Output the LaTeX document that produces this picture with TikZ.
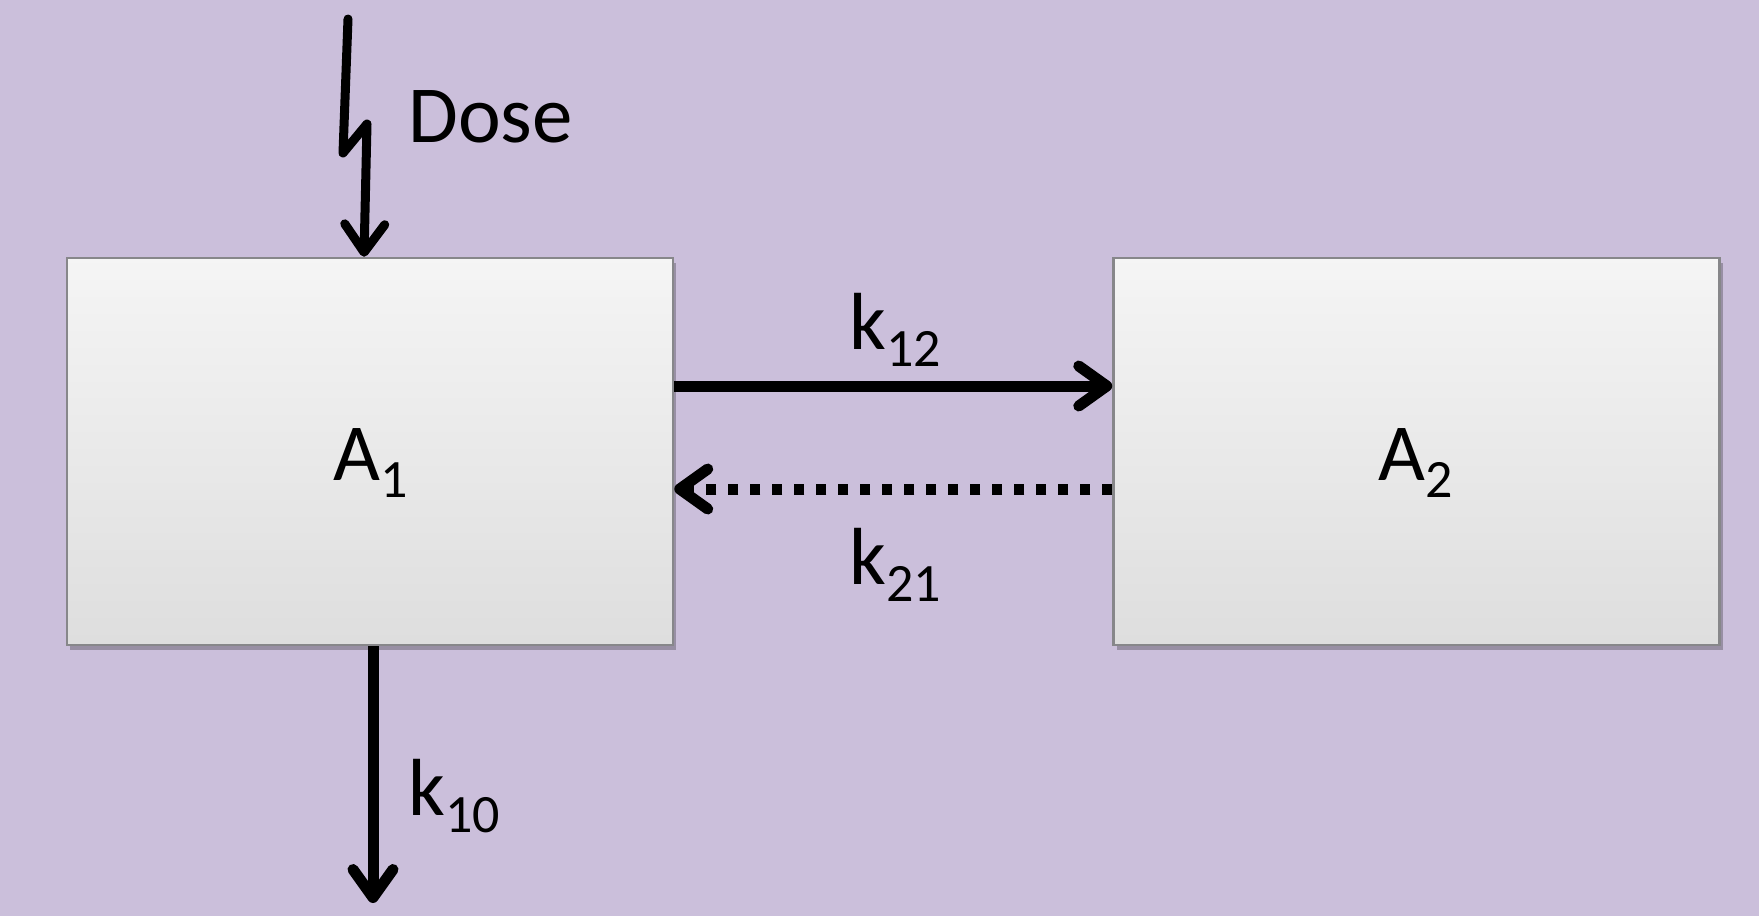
\documentclass[tikz,border=0pt]{standalone}
\usepackage{fontspec}
\setmainfont{Carlito}
\usetikzlibrary{arrows.meta,shadows}
\definecolor{bgviolet}{RGB}{203,191,219}
\definecolor{boxedge}{RGB}{135,135,138}
\newcommand\lowsub[1]{\raisebox{-17pt}{\fontsize{54}{54}\selectfont #1}}
\tikzset{
  compartment/.style={draw=boxedge, line width=2.5pt, top color=black!4, bottom color=black!13,
    minimum width=606pt, minimum height=387pt, inner sep=0pt,
    drop shadow={shadow xshift=3pt, shadow yshift=-5pt, fill=black, opacity=0.25}},
  lbl/.style={anchor=base west, inner sep=0pt, font=\fontsize{81}{84}\selectfont},
  barb/.style={-{Straight Barb[length=28pt, width=40pt, line width=#1, round]}},
  flow/.style={line width=11pt, barb=11pt},
  backflow/.style={line width=11pt, dash pattern=on 10pt off 12pt, barb=11pt},
}
\begin{document}
\begin{tikzpicture}[x=1pt, y=-1pt]
  \fill[bgviolet] (0,0) rectangle (1759,916);
  \useasboundingbox (0,0) rectangle (1759,916);

  % compartments
  \node[compartment] (A1) at (370,451.5) {};
  \node[compartment] (A2) at (1416.5,451.5) {};
  \node[lbl] (A1lbl) at (333,480) {A\lowsub{1}};
  \node[lbl] (A2lbl) at (1378,480) {A\lowsub{2}};

  % dose input with zigzag
  \coordinate (dosetop) at (348,19);
  \coordinate (zigA) at (343,153);
  \coordinate (zigB) at (367,124);
  \draw[line width=9pt, line join=round, line cap=round, barb=9pt]
    (dosetop) -- (zigA) -- (zigB) -- ([xshift=-6pt]A1.north);
  \node[lbl] (doselbl) at (408,142) {Dose};

  % transfer between compartments
  \draw[flow] ([yshift=65.5pt]A1.east) -- ([yshift=65.5pt]A2.west);
  \draw[backflow] ([yshift=-37.5pt]A2.west) -- ([yshift=-37.5pt]A1.east);
  \node[lbl] (k12) at (849,349) {k\lowsub{12}};
  \node[lbl] (k21) at (849,584) {k\lowsub{21}};

  % elimination
  \coordinate (elimend) at (373,903);
  \draw[line width=11pt, barb=11pt] ([xshift=3pt]A1.south) -- (elimend);
  \node[lbl] (k10) at (408,815) {k\lowsub{10}};
\end{tikzpicture}
\end{document}
